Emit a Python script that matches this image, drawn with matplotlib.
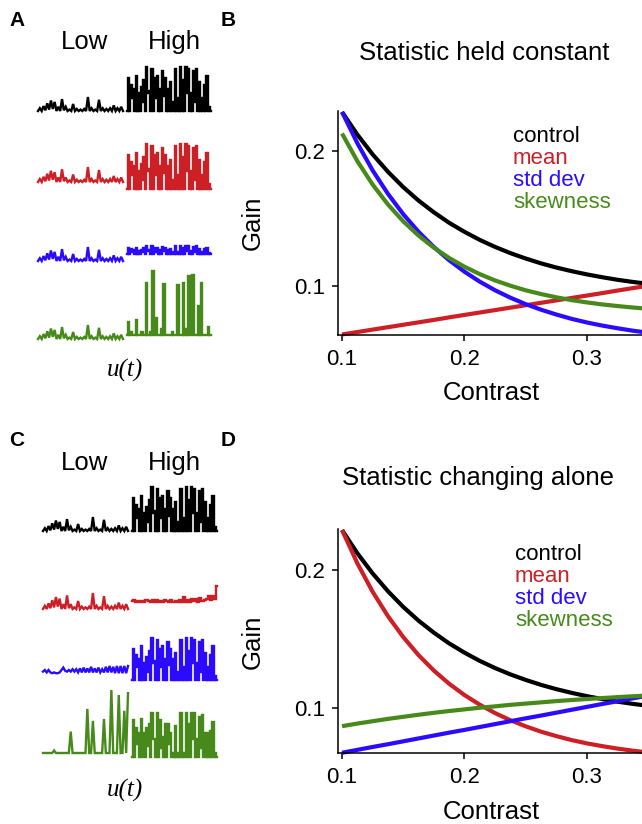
import numpy as np
import matplotlib
matplotlib.use("Agg")
import matplotlib.pyplot as plt

plt.rcParams['font.family'] = ['Liberation Sans', 'DejaVu Sans']

W, H = 642, 824

BLACK = '#000000'
RED = '#cd1f26'
BLUE = '#2a0bff'
GREEN = '#478a1b'

# gain vs contrast
contrast = [0.1, 0.1125, 0.125, 0.1375, 0.15, 0.1625, 0.175, 0.1875, 0.2, 0.2125,
            0.225, 0.2375, 0.25, 0.2625, 0.275, 0.2875, 0.3, 0.3125, 0.325, 0.3375, 0.35]

gain_control = [0.229, 0.2122, 0.1975, 0.1846, 0.1732, 0.1632, 0.1545, 0.1467, 0.1400, 0.1340,
                0.1288, 0.1242, 0.1202, 0.1166, 0.1135, 0.1108, 0.1084, 0.1063, 0.1044, 0.1028, 0.1014]

# B: statistic held constant
held_mean = [0.0638, 0.0656, 0.0674, 0.0692, 0.0710, 0.0728, 0.0746, 0.0765, 0.0783, 0.0801,
             0.0819, 0.0837, 0.0855, 0.0873, 0.0891, 0.0909, 0.0927, 0.0945, 0.0964, 0.0982, 0.1000]
held_std = [0.2290, 0.2058, 0.1856, 0.1682, 0.1531, 0.1400, 0.1287, 0.1189, 0.1104, 0.1030,
            0.0966, 0.0911, 0.0863, 0.0822, 0.0786, 0.0754, 0.0727, 0.0704, 0.0684, 0.0666, 0.0651]
held_skew = [0.2130, 0.1925, 0.1751, 0.1603, 0.1478, 0.1372, 0.1282, 0.1206, 0.1141, 0.1086,
             0.1039, 0.1000, 0.0966, 0.0938, 0.0914, 0.0893, 0.0876, 0.0861, 0.0849, 0.0838, 0.0829]

# D: statistic changing alone
alone_mean = [0.2290, 0.2049, 0.1842, 0.1665, 0.1513, 0.1382, 0.1270, 0.1174, 0.1092, 0.1022,
              0.0961, 0.0909, 0.0865, 0.0826, 0.0794, 0.0765, 0.0741, 0.0721, 0.0703, 0.0688, 0.0675]
alone_std = [0.0673, 0.0694, 0.0715, 0.0735, 0.0756, 0.0777, 0.0798, 0.0819, 0.0839, 0.0860,
             0.0881, 0.0902, 0.0923, 0.0943, 0.0964, 0.0985, 0.1006, 0.1027, 0.1047, 0.1068, 0.1089]
alone_skew = [0.0866, 0.0885, 0.0902, 0.0919, 0.0934, 0.0949, 0.0963, 0.0976, 0.0988, 0.1000,
              0.1010, 0.1021, 0.1030, 0.1039, 0.1048, 0.1056, 0.1063, 0.1070, 0.1077, 0.1083, 0.1089]

legend_names = ['control', 'mean', 'std dev', 'skewness']

# stimulus snippets u(t), normalised heights
low_contrast = [0, 0.2, 0, 0.35, 0.05, 0.55, 0.1, 0.75, 0.15, 0.65, 0, 0.3, 0, 0.85, 0.05, 0.3,
                0, 0.1, 0, 0.5, 0, 0.15, 0, 0.1, 0, 0.15, 0, 1.0, 0, 0.2, 0, 0.1, 0, 0.8, 0,
                0.2, 0, 0.15, 0, 0.2, 0, 0.4, 0, 0.2, 0, 0.3, 0]
high_contrast = [0, 0.75, 0, 0.6, 0.3, 0.5, 0, 0.8, 0, 0.4, 0, 0.55, 0.2, 0.7, 0, 1.0,
                 0.4, 0.45, 0, 0.95, 0, 0.75, 0.3, 0.8, 0, 0.5, 0, 0.9, 0.35, 0.75, 0,
                 0.5, 0, 0.65, 0, 0.2, 0, 0.95, 0, 0.3, 0, 1.0, 0, 0.7, 0, 1.0, 0.4,
                 0.95, 0, 0.4, 0, 0.9, 0.2, 0.95, 0, 0.65, 0, 0.3, 0, 0.6, 0, 0.8, 0, 0.1, 0]
skew_high_held = [0, 0.2, 0, 0.05, 0, 0, 0, 0.24, 0, 0, 0, 0.05, 0, 0, 0.81, 0, 0, 0.05, 0, 1.0,
                  0, 0.26, 0, 0, 0, 0.1, 0, 0.79, 0, 0, 0, 0, 0, 0.05, 0, 0, 0, 0.78, 0, 0, 0,
                  0.81, 0, 0.1, 0, 0.92, 0, 0, 0.94, 0, 0, 0, 0.46, 0, 0.81, 0, 0, 0, 0, 0.12, 0, 0]
mean_high_alone = [0.05, 0.1, 0.03, 0.08, 0.03, 0.06, 0.03, 0.1, 0.05, 0.03, 0.1, 0.03, 0.12,
                   0.03, 0.06, 0.03, 0.1, 0.05, 0.03, 0.15, 0.03, 0.06, 0.03, 0.1, 0.03, 0.3,
                   0.03, 0.1, 0.03, 0.2, 0.06, 0.2, 0.03, 0.25, 0.06, 0.15, 0.2, 0.4, 0.15, 0.35,
                   0.2, 1.0]
std_low_alone = [0.3, 0.5, 0.2, 0.5, 0.2, 0.1, 0.2, 0.1, 0.1, 0.2, 0.5, 0.8, 0.4, 0.3, 0.5, 0.3,
                 0.6, 0.3, 0.6, 0.2, 0.7, 0.2, 0.8, 0.2, 0.7, 0.2, 0.9, 0.2, 0.7, 0.2, 0.8, 0.2,
                 0.6, 0.2, 0.9, 0.2, 1.0, 0.2, 0.9, 0.1, 1.0, 0.1, 1.0, 0.1, 1.0, 0.1, 1.0]
skew_low_alone = [0, 0, 0, 0, 0, 0, 0.04, 0, 0, 0, 0, 0, 0, 0, 0, 0.34, 0, 0, 0, 0, 0, 0, 0,
                  0, 0.7, 0, 0, 0.51, 0, 0, 0, 0, 0, 0.54, 0, 0, 0, 1.0, 0, 0, 0, 0.92, 0, 0,
                  0.67, 0, 0.95]
skew_high_alone = [0, 0.85, 0, 0.65, 0.3, 0.55, 0, 0.87, 0, 0.55, 0, 0.65, 0.25, 0.75,
                   0, 1.0, 0.4, 0.4, 0, 1.0, 0, 0.85, 0.2, 0.45, 0, 0.75, 0, 0.75, 0.3,
                   0.55, 0, 0.1, 0, 0.7, 0, 0.1, 0, 1.0, 0, 0.1, 0, 1.0, 0, 0.75, 0,
                   1.0, 0.4, 1.0, 0, 0.4, 0, 0.9, 0.2, 0.95, 0, 0.55, 0, 0.55, 0, 0.6, 0,
                   0.8, 0, 0.1, 0]


def frac(x, y):
    return x / W, 1 - y / H


def px_axes(fig, x0, y0, x1, y1):
    # axes box given in image pixels (top-left origin)
    return fig.add_axes([x0 / W, 1 - y1 / H, (x1 - x0) / W, (y1 - y0) / H])


def draw_traces(fig, box, xlow, xhigh, rows):
    ax = px_axes(fig, *box)
    ax.set_xlim(box[0], box[2])
    ax.set_ylim(box[3], box[1])
    ax.axis('off')
    for color, segs in rows:
        for k, ((pat, base, h), (xa, xb)) in enumerate(zip(segs, (xlow, xhigh))):
            v = np.asarray(pat, dtype=float)
            xs = np.linspace(xa, xb, len(v))
            # high-contrast segments look like narrow bars, low ones like smooth bumps
            ds = 'steps-mid' if k == 1 else 'default'
            ax.plot(xs, base - h * v, color=color, lw=1.7, drawstyle=ds,
                    solid_joinstyle='miter')
    return ax


def gain_panel(fig, box, ylo, curves, title, title_xy, leg_x, leg_y0):
    ax = px_axes(fig, *box)
    for vals, color in curves:
        ax.plot(contrast, vals, color=color, lw=3, clip_on=False,
                solid_capstyle='butt')
    ax.set_xlim(0.0967, 0.345)
    ax.set_ylim(ylo, 0.2295)
    ax.set_xticks([0.1, 0.2, 0.3])
    ax.set_yticks([0.1, 0.2])
    ax.set_xticklabels(['0.1', '0.2', '0.3'])
    ax.set_yticklabels(['0.1', '0.2'])
    for s in ['top', 'right']:
        ax.spines[s].set_visible(False)
    for s in ['left', 'bottom']:
        ax.spines[s].set_linewidth(1.1)
    ax.tick_params(axis='both', direction='out', length=4, width=1.1, labelsize=16)
    ax.tick_params(axis='x', pad=6)
    ax.tick_params(axis='y', pad=5)
    ax.patch.set_alpha(0)
    fig.text(*frac(*title_xy), title, fontsize=18.5, ha='center', va='center')
    for i, (name, (_, color)) in enumerate(zip(legend_names, curves)):
        fig.text(*frac(leg_x, leg_y0 + 22 * i), name, color=color, fontsize=16,
                 ha='left', va='baseline')
    return ax


fig = plt.figure(figsize=(W / 100, H / 100), dpi=100)

# ---------- A ----------
draw_traces(fig, (30, 55, 222, 350), (38, 123), (127, 211), [
    (BLACK, [(low_contrast, 111, 14), (high_contrast, 111, 44)]),
    (RED, [(low_contrast, 182, 15), (high_contrast, 189, 45)]),
    (BLUE, [(low_contrast, 261, 14), (high_contrast, 254, 8)]),
    (GREEN, [(low_contrast, 339, 14), (skew_high_held, 335, 64)]),
])

# ---------- C ----------
draw_traces(fig, (30, 475, 222, 770), (43, 128), (132, 217), [
    (BLACK, [(low_contrast, 531, 14), (high_contrast, 531, 44)]),
    (RED, [(low_contrast, 609, 16), (mean_high_alone, 602, 16)]),
    (BLUE, [(std_low_alone, 674, 8), (high_contrast, 680, 42)]),
    (GREEN, [(skew_low_alone, 753, 63), (skew_high_alone, 757, 44)]),
])

for y_lab, y_u in [(42, 370), (463, 790)]:
    fig.text(*frac(85, y_lab), 'Low', fontsize=18.5, ha='center', va='center')
    fig.text(*frac(174, y_lab), 'High', fontsize=18.5, ha='center', va='center')
    fig.text(*frac(125, y_u), 'u(t)', fontsize=18, ha='center', va='center',
             family=['Liberation Serif', 'DejaVu Serif'], style='italic')

# ---------- B ----------
gain_panel(fig, (338, 111.3, 642, 335), 0.0634,
           [(gain_control, BLACK), (held_mean, RED), (held_std, BLUE), (held_skew, GREEN)],
           'Statistic held constant', (484.5, 53), 513, 141.7)

# ---------- D ----------
gain_panel(fig, (338, 529.4, 642, 753.3), 0.0669,
           [(gain_control, BLACK), (alone_mean, RED), (alone_std, BLUE), (alone_skew, GREEN)],
           'Statistic changing alone', (478, 478), 515, 560)

for (x, y) in [(253, 223), (253, 642)]:
    fig.text(*frac(x, y), 'Gain', fontsize=18.5, rotation=90, ha='center', va='center')
for (x, y) in [(491, 393), (491, 812)]:
    fig.text(*frac(x, y), 'Contrast', fontsize=18.5, ha='center', va='center')

for lab, (x, y) in zip('ABCD', [(17, 20), (228, 20), (17, 440), (228, 440)]):
    fig.text(*frac(x, y), lab, fontsize=15, fontweight='bold', ha='center', va='center')

fig.savefig('out.png', dpi=100)
